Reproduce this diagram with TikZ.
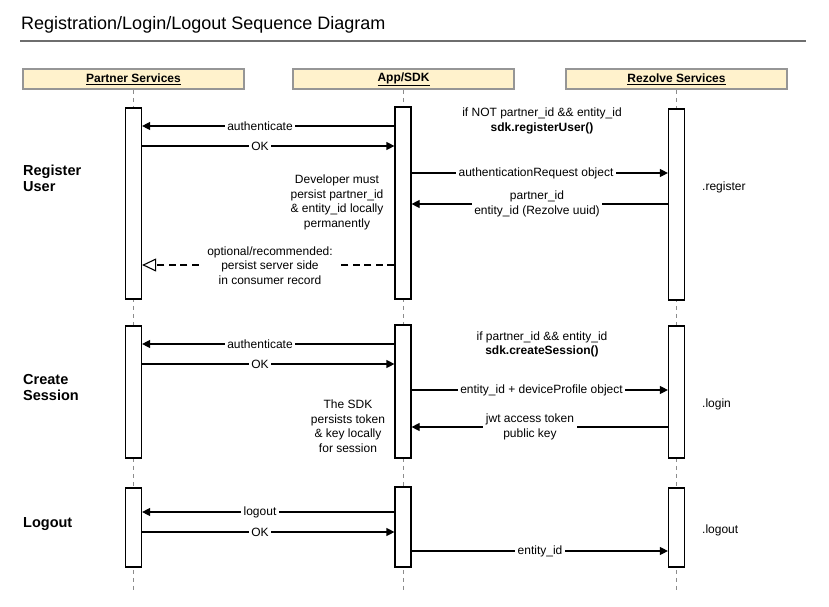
\documentclass[tikz,border=0pt]{standalone}
\usepackage{fontspec}
\setmainfont{Liberation Sans}
\usetikzlibrary{arrows.meta}
\definecolor{hdrfill}{RGB}{255,242,204}
\definecolor{hdrline}{RGB}{150,150,150}
\definecolor{lifegray}{RGB}{140,140,140}
\definecolor{rulegray}{RGB}{110,110,110}
\begin{document}
\begin{tikzpicture}[x=1pt,y=-1pt,
  every node/.style={font=\fontsize{12}{14.5}\selectfont, inner sep=0pt},
  hdr/.style={draw=hdrline, line width=1.6pt, fill=hdrfill, minimum width=221pt, minimum height=20pt, font=\bfseries\fontsize{12}{14}\selectfont},
  bar/.style={draw=black, line width=1.2pt, fill=white, minimum width=16pt},
  life/.style={draw=lifegray, line width=0.8pt, dash pattern=on 4pt off 4pt},
  msg/.style={draw=black, line width=1.2pt, -{Triangle[length=8pt,width=8pt]}},
  dmsg/.style={draw=black, line width=1.1pt, dash pattern=on 7pt off 4.5pt, -{Triangle[open,length=14pt,width=13pt]}},
  lbl/.style={fill=white, inner sep=2.5pt, align=center},
  note/.style={align=center},
  side/.style={anchor=west},
  sec/.style={font=\bfseries\fontsize{14.5}{16}\selectfont, anchor=west, align=left},
]
\fill[white] (0,0) rectangle (829,607);
\useasboundingbox (0,0) rectangle (829,607);

% title
\node[anchor=base west, font=\fontsize{18}{20}\selectfont] (title) at (21,30) {Registration/Login/Logout Sequence Diagram};
\coordinate (ruleL) at (20,41);
\coordinate (ruleR) at (806,41);
\draw[rulegray, line width=1.8pt] (ruleL) -- (ruleR);

% headers
\node[hdr] (hp) at (133.5,79) {\underline{Partner Services}};
\node[hdr] (ha) at (403.5,79) {\underline{App/SDK}};
\node[hdr] (hr) at (676.5,79) {\underline{Rezolve Services}};

% lifelines
\coordinate (endp) at (133.5,590);
\coordinate (enda) at (403,590);
\coordinate (endr) at (676.5,590);
\draw[life] (hp.south) -- (endp);
\draw[life] (ha.south -| enda) -- (enda);
\draw[life] (hr.south) -- (endr);

% activation bars
\node[bar, minimum height=191pt] (pb1) at (133.5,203.5) {};
\node[bar, minimum height=192pt] (ab1) at (403,203) {};
\node[bar, minimum height=191pt] (rb1) at (676.5,204.5) {};
\node[bar, minimum height=132pt] (pb2) at (133.5,392) {};
\node[bar, minimum height=133pt] (ab2) at (403,391.5) {};
\node[bar, minimum height=132pt] (rb2) at (676.5,392) {};
\node[bar, minimum height=79pt] (pb3) at (133.5,527.5) {};
\node[bar, minimum height=80pt] (ab3) at (403,527) {};
\node[bar, minimum height=79pt] (rb3) at (676.5,527.5) {};

% section labels
\node[sec] (s1) at (23,178) {Register\\User};
\node[sec] (s2) at (23,388) {Create\\Session};
\node[sec] (s3) at (23,524) {Logout};

% ---- Register User ----
\draw[msg] (ab1.west |- 0,126) -- (pb1.east |- 0,126);
\node[lbl] (m1) at (260,126) {authenticate};
\draw[msg] (pb1.east |- 0,146) -- (ab1.west |- 0,146);
\node[lbl] (m2) at (260,146) {OK};
\node[note] (n1) at (542,121) {if NOT partner\_id \&\& entity\_id\\\textbf{sdk.registerUser()}};
\draw[msg] (ab1.east |- 0,173) -- (rb1.west |- 0,173);
\node[lbl] (m3) at (536,173) {authenticationRequest object};
\draw[msg] (rb1.west |- 0,204) -- (ab1.east |- 0,204);
\node[lbl] (m4) at (537,204) {partner\_id\\entity\_id (Rezolve uuid)};
\node[side] (r1) at (702,187) {.register};
\node[note] (n2) at (337,202.5) {Developer must\\persist partner\_id\\\& entity\_id locally\\permanently};
\draw[dmsg] (ab1.west |- 0,265) -- (pb1.east |- 0,265);
\node[lbl, inner xsep=5pt] (m5) at (270,265.5) {optional/recommended:\\persist server side\\in consumer record};

% ---- Create Session ----
\draw[msg] (ab2.west |- 0,344) -- (pb2.east |- 0,344);
\node[lbl] (m6) at (260,344) {authenticate};
\draw[msg] (pb2.east |- 0,364) -- (ab2.west |- 0,364);
\node[lbl] (m7) at (260,364) {OK};
\node[note] (n3) at (542,344.5) {if partner\_id \&\& entity\_id\\\textbf{sdk.createSession()}};
\draw[msg] (ab2.east |- 0,390) -- (rb2.west |- 0,390);
\node[lbl] (m8) at (541.5,390) {entity\_id + deviceProfile object};
\draw[msg] (rb2.west |- 0,427) -- (ab2.east |- 0,427);
\node[lbl] (m9) at (530,427) {jwt access token\\public key};
\node[side] (r2) at (702,404) {.login};
\node[note] (n4) at (348,426) {The SDK\\persists token\\\& key locally\\for session};

% ---- Logout ----
\draw[msg] (ab3.west |- 0,512) -- (pb3.east |- 0,512);
\node[lbl] (m10) at (260,512) {logout};
\draw[msg] (pb3.east |- 0,532) -- (ab3.west |- 0,532);
\node[lbl] (m11) at (260,532) {OK};
\draw[msg] (ab3.east |- 0,551) -- (rb3.west |- 0,551);
\node[lbl] (m12) at (540,551) {entity\_id};
\node[side] (r3) at (702,530) {.logout};
\end{tikzpicture}
\end{document}
